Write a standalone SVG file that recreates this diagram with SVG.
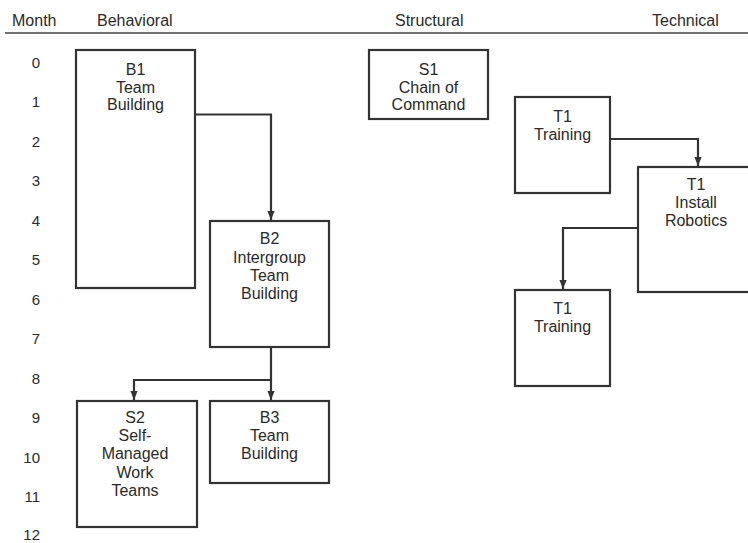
<svg xmlns="http://www.w3.org/2000/svg" width="748" height="543" viewBox="0 0 748 543">
  <defs>
    <marker id="arrow" viewBox="0 0 10 10" refX="10" refY="5" markerWidth="9" markerHeight="9" markerUnits="userSpaceOnUse" orient="auto">
      <path d="M0,1 L10,5 L0,9 Z" fill="#333"/>
    </marker>
    <style>
      text { font-family: "Liberation Sans", Arial, Helvetica, sans-serif; fill: #2a2a2a; }
      .hdr { font-size: 16px; }
      .num { font-size: 15px; text-anchor: end; }
      .lbl { font-size: 16px; text-anchor: middle; }
      .box { fill: #fff; stroke: #333; stroke-width: 2.2; }
      .conn { fill: none; stroke: #333; stroke-width: 2.2; marker-end: url(#arrow); }
    </style>
  </defs>
  <rect width="748" height="543" fill="#fff"/>

  <!-- column headings -->
  <g id="headings">
    <text class="hdr" x="12" y="26">Month</text>
    <text class="hdr" x="97" y="26">Behavioral</text>
    <text class="hdr" x="395" y="26">Structural</text>
    <text class="hdr" x="652" y="26">Technical</text>
    <line x1="5" y1="33" x2="748" y2="33" stroke="#444" stroke-width="1.6"/>
  </g>

  <!-- month scale -->
  <g id="months">
    <text class="num" x="40" y="68">0</text>
    <text class="num" x="40" y="107">1</text>
    <text class="num" x="40" y="147">2</text>
    <text class="num" x="40" y="186">3</text>
    <text class="num" x="40" y="226">4</text>
    <text class="num" x="40" y="265">5</text>
    <text class="num" x="40" y="305">6</text>
    <text class="num" x="40" y="344">7</text>
    <text class="num" x="40" y="384">8</text>
    <text class="num" x="40" y="423">9</text>
    <text class="num" x="40" y="463">10</text>
    <text class="num" x="40" y="502">11</text>
    <text class="num" x="40" y="540">12</text>
  </g>

  <!-- connectors -->
  <g id="connectors">
    <path class="conn" d="M195,114.5 H271 V220"/>
    <path class="conn" d="M271,347 V400"/>
    <path class="conn" d="M271,380 H134 V400"/>
    <path class="conn" d="M610,139 H698 V166"/>
    <path class="conn" d="M638,228 H563 V289"/>
  </g>

  <g id="B1">
    <rect class="box" x="76" y="50" width="119" height="238"/>
    <text class="lbl" x="135.5" y="75">B1</text>
    <text class="lbl" x="135.5" y="93">Team</text>
    <text class="lbl" x="135.5" y="110">Building</text>
  </g>

  <g id="B2">
    <rect class="box" x="210" y="221" width="119" height="126"/>
    <text class="lbl" x="269.5" y="244">B2</text>
    <text class="lbl" x="269.5" y="263">Intergroup</text>
    <text class="lbl" x="269.5" y="281">Team</text>
    <text class="lbl" x="269.5" y="299">Building</text>
  </g>

  <g id="S2">
    <rect class="box" x="77" y="401" width="120" height="126"/>
    <text class="lbl" x="135" y="423">S2</text>
    <text class="lbl" x="135" y="441">Self-</text>
    <text class="lbl" x="135" y="459">Managed</text>
    <text class="lbl" x="135" y="478">Work</text>
    <text class="lbl" x="135" y="496">Teams</text>
  </g>

  <g id="B3">
    <rect class="box" x="210" y="401" width="119" height="82"/>
    <text class="lbl" x="269.5" y="423">B3</text>
    <text class="lbl" x="269.5" y="441">Team</text>
    <text class="lbl" x="269.5" y="459">Building</text>
  </g>

  <g id="S1">
    <rect class="box" x="369" y="50" width="119" height="69"/>
    <text class="lbl" x="428.5" y="75">S1</text>
    <text class="lbl" x="428.5" y="93">Chain of</text>
    <text class="lbl" x="428.5" y="110">Command</text>
  </g>

  <g id="T1-training-a">
    <rect class="box" x="515" y="97" width="95" height="96"/>
    <text class="lbl" x="562.5" y="122">T1</text>
    <text class="lbl" x="562.5" y="140">Training</text>
  </g>

  <g id="T1-install">
    <rect class="box" x="638" y="167" width="120" height="125"/>
    <text class="lbl" x="696" y="190">T1</text>
    <text class="lbl" x="696" y="208">Install</text>
    <text class="lbl" x="696" y="226">Robotics</text>
  </g>

  <g id="T1-training-b">
    <rect class="box" x="515" y="290" width="95" height="96"/>
    <text class="lbl" x="562.5" y="314">T1</text>
    <text class="lbl" x="562.5" y="332">Training</text>
  </g>
</svg>
